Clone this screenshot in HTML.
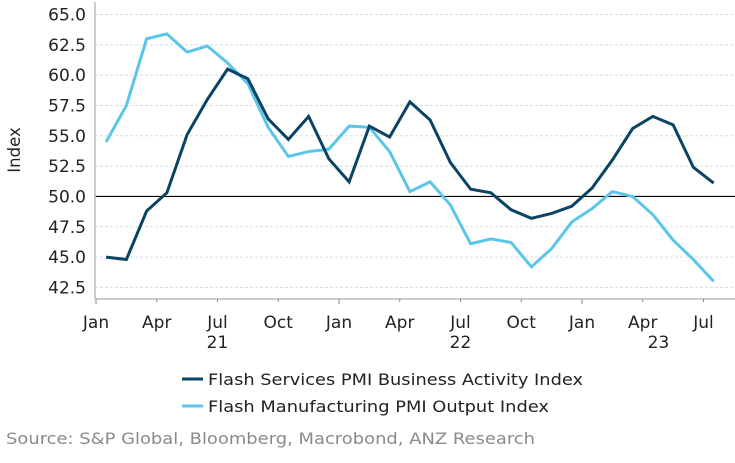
<!DOCTYPE html>
<html><head><meta charset="utf-8"><style>
body{margin:0;background:#fff;font-family:"DejaVu Sans","Liberation Sans",sans-serif}
svg text{font-family:"DejaVu Sans","Liberation Sans",sans-serif}
</style></head><body>
<svg id="chart" width="735" height="459">
<g id="grid"></g><g id="axes"></g><g id="series"></g>
<text x="20" y="150" font-size="16.5" transform="rotate(-90 20 150)" text-anchor="middle" fill="#222">Index</text>
<g>
<line x1="182" y1="379" x2="203" y2="379" stroke="#0a4364" stroke-width="3"/>
<text x="208" y="385" font-size="16" textLength="375" lengthAdjust="spacingAndGlyphs" fill="#222">Flash Services PMI Business Activity Index</text>
<line x1="182" y1="406" x2="203" y2="406" stroke="#5bc5ea" stroke-width="3"/>
<text x="208" y="412" font-size="16" textLength="341" lengthAdjust="spacingAndGlyphs" fill="#222">Flash Manufacturing PMI Output Index</text>
</g>
<text x="6" y="444" font-size="16" textLength="529" lengthAdjust="spacingAndGlyphs" fill="#8a8a8a">Source: S&amp;P Global, Bloomberg, Macrobond, ANZ Research</text>
</svg>
<script>
const yTicks=[42.5,45,47.5,50,52.5,55,57.5,60,62.5,65];
const xLabels=["Jan","Apr","Jul","Oct","Jan","Apr","Jul","Oct","Jan","Apr","Jul"];
const yearLabels=["21","22","23"];
const services=[45.0,44.8,48.8,50.3,55.1,58.0,60.5,59.7,56.4,54.7,56.6,53.1,51.2,55.8,54.9,57.8,56.3,52.8,50.6,50.3,48.9,48.2,48.6,49.2,50.7,53.0,55.6,56.6,55.9,52.4,51.1];
const manufacturing=[54.5,57.5,63.0,63.4,61.9,62.4,61.0,59.3,55.7,53.3,53.7,53.9,55.8,55.7,53.7,50.4,51.2,49.3,46.1,46.5,46.2,44.2,45.7,47.9,49.0,50.4,50.0,48.5,46.4,44.8,43.0];
const NS="http://www.w3.org/2000/svg";
const x0=96,mw=20.25,left=95,right=735,axisY=299;
const xs=i=>x0+mw*(i+0.5);
const xm=m=>x0+mw*m;
const ys=v=>14.5+(65-v)*12.13;
function mk(t,a,p){const e=document.createElementNS(NS,t);for(const k in a)e.setAttribute(k,a[k]);p.appendChild(e);return e;}
const grid=document.getElementById('grid'),axes=document.getElementById('axes'),ser=document.getElementById('series');
yTicks.forEach(v=>{
 const l=mk('line',{x1:left,x2:right,y1:ys(v),y2:ys(v),stroke:v===50?'#000':'#cfe0e6','stroke-width':v===50?1.2:1,'stroke-dasharray':v===50?'':'3,2'},grid);
 
 
 const t=mk('text',{x:86,y:ys(v)+6,'font-size':17,'text-anchor':'end',fill:'#222'},axes);
 t.textContent=v.toFixed(1);
 
 
});
const ya=mk('line',{x1:left,x2:left,y1:2,y2:axisY,stroke:'#bbb','stroke-width':1.5},axes);


const xa=mk('line',{x1:left,x2:right,y1:axisY,y2:axisY,stroke:'#bbb','stroke-width':1.5},axes);


xLabels.forEach((s,i)=>{
 const m=i*3,x=xm(m);
 mk('line',{x1:x,x2:x,y1:axisY,y2:axisY+(m%12===0?5:3),stroke:'#888'},axes);
 const t=mk('text',{x:x,y:328,'font-size':17,'text-anchor':'middle',fill:'#222'},axes);
 t.textContent=s;
 
 
});
mk('line',{x1:xm(33),x2:xm(33),y1:axisY,y2:axisY+3,stroke:'#888'},axes);
yearLabels.forEach((s,i)=>{
 const a=xm(i*12),b=Math.min(xm(i*12+12),right);
 const t=mk('text',{x:(a+b)/2,y:348,'font-size':17,'text-anchor':'middle',fill:'#222'},axes);
 t.textContent=s;
 
 
});
function line(d,c,n){
 const p=mk('polyline',{points:d.map((v,i)=>xs(i)+','+ys(v)).join(' '),fill:'none',stroke:c,'stroke-width':3,'stroke-linejoin':'miter'},ser);
 
 
}
line(manufacturing,'#5bc5ea','manufacturing-line');
line(services,'#0a4364','services-line');
</script>
</body></html>
